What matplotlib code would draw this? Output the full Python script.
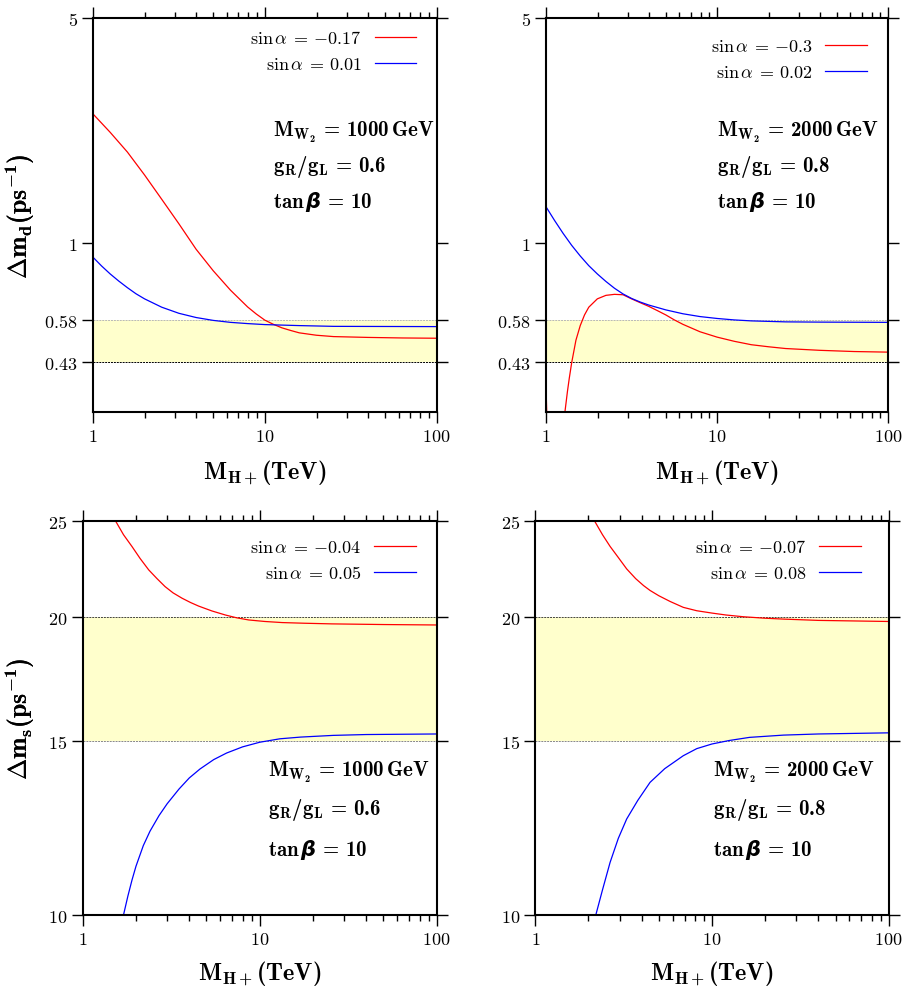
import matplotlib
matplotlib.use('Agg')
import matplotlib.pyplot as plt
from matplotlib.ticker import FixedLocator, NullLocator, NullFormatter, LogLocator

# Computer Modern look, with a real bold face for digits too
plt.rcParams['mathtext.fontset'] = 'custom'
plt.rcParams['mathtext.rm'] = 'cmr10'
plt.rcParams['mathtext.it'] = 'cmmi10'
plt.rcParams['mathtext.bf'] = 'cmb10'
plt.rcParams['mathtext.sf'] = 'cmss10'
plt.rcParams['mathtext.tt'] = 'cmtt10'
plt.rcParams['mathtext.cal'] = 'cmsy10'
plt.rcParams['mathtext.fallback'] = 'cm'

# ---- data (M_H+ in TeV) ----
# top left: Delta m_d, M_W2 = 1000 GeV, gR/gL = 0.6
tl_red_x = [1, 1.259, 1.585, 1.995, 2.512, 3.162, 3.981, 5.012, 6.31, 7.943, 8.913, 10,
            11.22, 12.59, 14.13, 15.85, 19.95, 25.12, 39.81, 63.1, 100]
tl_red_y = [2.52, 2.21, 1.92, 1.63, 1.37, 1.15, 0.959, 0.822, 0.716, 0.635, 0.604, 0.578,
            0.561, 0.547, 0.537, 0.528, 0.519, 0.514, 0.511, 0.509, 0.508]
tl_blue_x = [1, 1.122, 1.259, 1.413, 1.585, 1.778, 1.995, 2.512, 3.162, 3.981, 5.012,
             6.31, 7.943, 10, 15.85, 25.12, 100]
tl_blue_y = [0.906, 0.851, 0.804, 0.764, 0.729, 0.698, 0.673, 0.634, 0.607, 0.589, 0.577,
             0.569, 0.564, 0.560, 0.556, 0.553, 0.552]

# top right: Delta m_d, M_W2 = 2000 GeV, gR/gL = 0.8
tr_red_x = [1, 1.01, 1.03, 1.1, 1.2, 1.25, 1.29, 1.334, 1.368, 1.413, 1.496, 1.585, 1.679,
            1.778, 1.995, 2.239, 2.512, 2.818, 3.162, 3.548, 3.981, 4.467, 5.012, 5.623,
            6.31, 7.943, 10, 12.59, 15.85, 19.95, 25.12, 39.81, 63.1, 100]
tr_red_y = [0.36, 0.30, 0.22, 0.12, 0.15, 0.22, 0.30, 0.347, 0.382, 0.427, 0.501, 0.556, 0.600,
            0.634, 0.673, 0.690, 0.695, 0.693, 0.673, 0.655, 0.638, 0.619, 0.600, 0.579,
            0.561, 0.532, 0.512, 0.497, 0.485, 0.478, 0.472, 0.466, 0.462, 0.460]
tr_blue_x = [1, 1.122, 1.259, 1.413, 1.585, 1.778, 1.995, 2.239, 2.512, 2.818, 3.162, 3.548,
             3.981, 5.012, 6.31, 7.943, 10, 12.59, 15.85, 25.12, 39.81, 100]
tr_blue_y = [1.299, 1.178, 1.074, 0.986, 0.914, 0.853, 0.804, 0.762, 0.726, 0.697, 0.675, 0.658,
             0.644, 0.622, 0.605, 0.593, 0.585, 0.579, 0.575, 0.571, 0.570, 0.569]

# bottom left: Delta m_s, M_W2 = 1000 GeV, gR/gL = 0.6
bl_red_x = [1.3, 1.53, 1.70, 1.90, 2.11, 2.36, 2.63, 2.92, 3.24, 3.64, 4.07, 4.52, 5.37,
            6.40, 7.41, 8.67, 10.7, 13.4, 17.8, 25.6, 50, 100]
bl_red_y = [27.2, 25.0, 24.2, 23.54, 22.9, 22.3, 21.85, 21.45, 21.14, 20.88, 20.67, 20.5, 20.27,
            20.08, 19.95, 19.85, 19.78, 19.73, 19.70, 19.67, 19.64, 19.62]
bl_blue_x = [1.6, 1.70, 1.8, 1.9, 2.0, 2.2, 2.4, 2.7, 3.0, 3.5, 4.0, 4.6, 5.5, 6.5, 8, 10, 13,
             17, 26, 40, 100]
bl_blue_y = [9.4, 10.0, 10.45, 10.85, 11.2, 11.75, 12.15, 12.6, 12.95, 13.4, 13.75, 14.04, 14.35,
             14.57, 14.78, 14.94, 15.06, 15.12, 15.18, 15.21, 15.23]

# bottom right: Delta m_s, M_W2 = 2000 GeV, gR/gL = 0.8
br_red_x = [1.9, 2.16, 2.4, 2.65, 2.95, 3.29, 3.7, 4.1, 4.46, 5.0, 5.8, 6.88, 8.2, 10, 12,
            15, 20, 25.4, 40, 100]
br_red_y = [26.2, 25.0, 24.2, 23.55, 22.95, 22.35, 21.85, 21.5, 21.26, 21.0, 20.72, 20.44,
            20.28, 20.17, 20.08, 20.0, 19.93, 19.89, 19.83, 19.78]
br_blue_x = [2.0, 2.2, 2.4, 2.65, 2.95, 3.29, 3.8, 4.46, 5.4, 6.88, 8.2, 10, 12.5, 16.3, 25.4,
             40, 100]
br_blue_y = [9.3, 10.0, 10.6, 11.3, 11.95, 12.5, 13.05, 13.61, 14.05, 14.48, 14.72, 14.88,
             15.0, 15.11, 15.19, 15.23, 15.27]

sin_labels = [('{-}0.17', '0.01'), ('{-}0.3', '0.02'), ('{-}0.04', '0.05'), ('{-}0.07', '0.08')]
mw2 = ['1000', '2000', '1000', '2000']
grgl = ['0.6', '0.8', '0.6', '0.8']

d_ticks = [0.43, 0.58, 1, 5]
d_ticklabels = ['0.43', '0.58', '1', '5']
s_ticks = [10, 15, 20, 25]
d_band = (0.43, 0.58)
s_band = (15, 20)

fig = plt.figure(figsize=(9.03, 9.87), dpi=100)
W, H = 903, 987
boxes = [(93, 436.7, 19, 413), (546, 888.3, 19, 413),
         (82.7, 436.7, 521.7, 916), (535.3, 888.7, 521.7, 916)]
leg_anchor = [(0.94, 0.972), (0.937, 0.952), (0.9415, 0.956), (0.921, 0.956)]
note_x = [0.524, 0.4996, 0.523, 0.503]

curves = [(tl_red_x, tl_red_y, tl_blue_x, tl_blue_y),
          (tr_red_x, tr_red_y, tr_blue_x, tr_blue_y),
          (bl_red_x, bl_red_y, bl_blue_x, bl_blue_y),
          (br_red_x, br_red_y, br_blue_x, br_blue_y)]

for i, (l, r, t, b) in enumerate(boxes):
    ax = fig.add_axes([l / W, 1 - b / H, (r - l) / W, (b - t) / H])
    ax.set_xscale('log')
    ax.set_yscale('log')
    rx, ry, bx, by = curves[i]
    top = i < 2

    if top:
        lo, hi = d_band
        ax.set_ylim(0.3, 5)
        ticks, tlabels = d_ticks, d_ticklabels
        ylab = r'$\mathbf{\Delta m_d(ps^{-1})}$'
        hi_col, lo_col = '#b8b8b8', 'black'
    else:
        lo, hi = s_band
        ax.set_ylim(10, 25)
        ticks, tlabels = s_ticks, [str(v) for v in s_ticks]
        ylab = r'$\mathbf{\Delta m_s(ps^{-1})}$'
        hi_col, lo_col = '#444444', '#888888'

    ax.axhspan(lo, hi, color='#ffffcc', zorder=0, lw=0)
    ax.axhline(hi, color=hi_col, ls=(0, (2, 1)), lw=0.7, zorder=1)
    ax.axhline(lo, color=lo_col, ls=(0, (2, 1)), lw=0.7, zorder=1)

    s1, s2 = sin_labels[i]
    ax.plot(rx, ry, color='red', lw=0.9, label=r'$\sin\alpha\:=\:' + s1 + '$')
    ax.plot(bx, by, color='blue', lw=0.9, label=r'$\sin\alpha\:=\:' + s2 + '$')

    ax.set_xlim(1, 100)
    ax.xaxis.set_major_locator(FixedLocator([1, 10, 100]))
    ax.set_xticklabels(['$1$', '$10$', '$100$'])
    ax.xaxis.set_minor_locator(LogLocator(base=10, subs=range(2, 10)))
    ax.xaxis.set_minor_formatter(NullFormatter())
    ax.yaxis.set_major_locator(FixedLocator(ticks))
    ax.set_yticklabels(['$' + s + '$' for s in tlabels])
    ax.yaxis.set_minor_locator(NullLocator())

    ax.tick_params(which='both', direction='out', top=True, right=True, width=1.0)
    ax.tick_params(which='major', length=8, labelsize=13, pad=3)
    ax.tick_params(which='minor', length=4.5)
    for sp in ax.spines.values():
        sp.set_linewidth(1.5)

    ax.set_xlabel(r'$\mathbf{M_{H+}(TeV)}$', fontsize=17.5)
    ax.set_ylabel(ylab, fontsize=18.5)
    ax.xaxis.set_label_coords(0.5, -0.115 if top else -0.11)
    ax.yaxis.set_label_coords(-(l - 37) / (r - l), 0.5)

    ax.legend(loc='upper right', bbox_to_anchor=leg_anchor[i], frameon=False,
              markerfirst=False, fontsize=13, handlelength=2.3, handletextpad=0.7,
              labelspacing=0.46, borderpad=0, borderaxespad=0)

    if top:
        ys = [(b - 132.7) / (b - t), (b - 166.7) / (b - t), (b - 201.7) / (b - t)]
    else:
        ys = [(b - 772.7) / (b - t), (b - 810) / (b - t), (b - 850) / (b - t)]
    notes = [r'$\mathbf{M_{W_2}}\,\mathbf{=}\,\mathbf{' + mw2[i] + r'\,GeV}$',
             r'$\mathbf{g_R/g_L}\,\mathbf{=}\,\mathbf{' + grgl[i] + '}$',
             r'$\mathbf{tan}\,\boldsymbol{\beta}\,\mathbf{=}\,\mathbf{10}$']
    for y, s in zip(ys, notes):
        ax.text(note_x[i], y, s, transform=ax.transAxes, fontsize=15,
                va='center', ha='left')

fig.savefig('out.png', dpi=100)
